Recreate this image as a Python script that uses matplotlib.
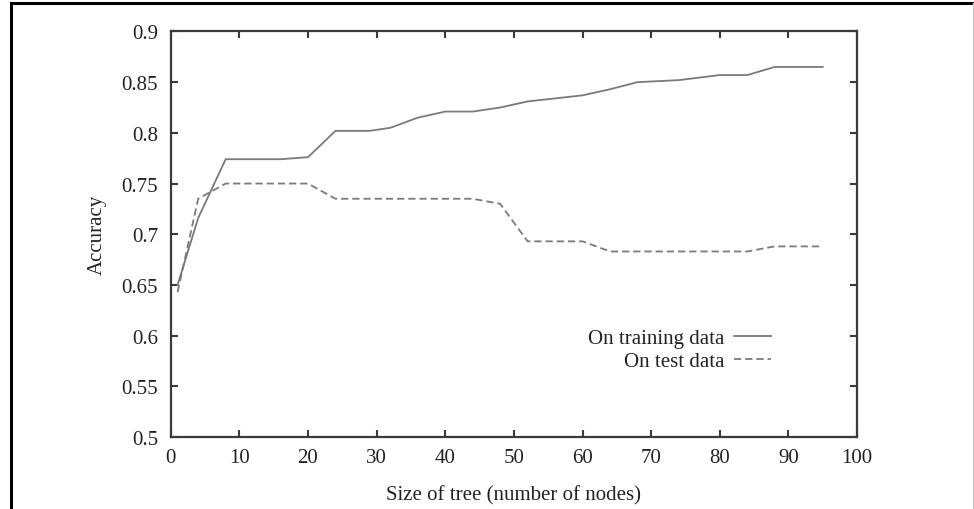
import matplotlib
matplotlib.use("Agg")
import matplotlib.pyplot as plt
from matplotlib.lines import Line2D

# values
train_size = [1, 4, 8, 16, 20, 24, 29, 32, 36, 40, 44, 48, 52, 60, 64, 68, 74, 80, 84, 88, 95]
train_acc = [0.65, 0.716, 0.774, 0.774, 0.776, 0.802, 0.802, 0.805, 0.815, 0.821, 0.821,
             0.825, 0.831, 0.837, 0.843, 0.850, 0.852, 0.857, 0.857, 0.865, 0.865]

test_size = [1, 4, 8, 20, 24, 44, 48, 52, 60, 64, 84, 88, 95]
test_acc = [0.643, 0.735, 0.750, 0.750, 0.735, 0.735, 0.730, 0.693, 0.693, 0.683, 0.683, 0.688, 0.688]

x_ticks = list(range(0, 101, 10))
y_ticks = [0.5, 0.55, 0.6, 0.65, 0.7, 0.75, 0.8, 0.85, 0.9]
y_ticklabels = ["0.5", "0.55", "0.6", "0.65", "0.7", "0.75", "0.8", "0.85", "0.9"]

plt.rcParams['font.family'] = ['Liberation Serif', 'DejaVu Serif']

fig = plt.figure(figsize=(9.74, 5.10), dpi=100)
ax = fig.add_axes([0.1753, 0.1412, 0.7046, 0.7951])

line_col = '#7a7a7a'
ax.plot(train_size, train_acc, color=line_col, lw=1.3, label='On training data')
ax.plot(test_size, test_acc, color=line_col, lw=1.3, dashes=(4, 2.2), label='On test data')

ax.set_xlim(0, 100)
ax.set_ylim(0.5, 0.9)
ax.set_xticks(x_ticks)
ax.set_yticks(y_ticks)
ax.set_yticklabels(y_ticklabels)

for s in ax.spines.values():
    s.set_color('#3a3a3a')
    s.set_linewidth(1.6)
ax.tick_params(direction='in', length=5, width=1.5, color='#3a3a3a',
               top=True, right=True, labelsize=15, labelcolor='#222222')
ax.tick_params(axis='x', pad=8)
ax.tick_params(axis='y', pad=9)

ax.set_xlabel('Size of tree (number of nodes)', fontsize=15, color='#222222', labelpad=13)
ax.set_ylabel('Accuracy', fontsize=15, color='#222222', labelpad=11)

ax.legend(loc='center right', bbox_to_anchor=(0.875, 0.215), frameon=False,
          markerfirst=False, fontsize=15, handlelength=1.8, handletextpad=0.45,
          labelspacing=0.15, borderpad=0, borderaxespad=0, labelcolor='#222222')

# outer frame around the whole picture
fig.add_artist(Line2D([0.0118, 0.0118], [0.0, 0.992], transform=fig.transFigure,
                      color='black', lw=2.2))
fig.add_artist(Line2D([0.0118, 1.0], [0.992, 0.992], transform=fig.transFigure,
                      color='black', lw=2.2))
fig.add_artist(Line2D([0.999, 0.999], [0.0, 0.992], transform=fig.transFigure,
                      color='#cccccc', lw=1))

fig.savefig('out.png', dpi=100)
